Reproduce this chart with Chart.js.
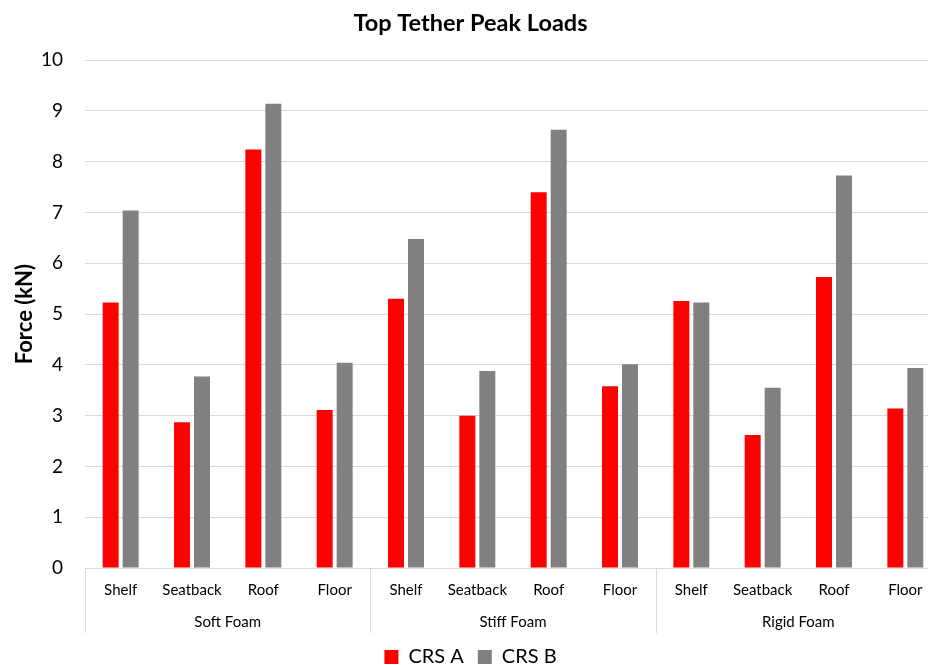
<!DOCTYPE html>
<html>
<head>
<meta charset="utf-8">
<title>Top Tether Peak Loads</title>
<script src="https://cdn.jsdelivr.net/npm/chart.js@4"></script>
<style>
    html, body { margin: 0; padding: 0; background: #fff; overflow: hidden; }
    #wrap { width: 941px; height: 665px; }
</style>
</head>
<body>
<div id="wrap"><canvas id="loads"></canvas></div>
<script>
const categories = ['Shelf', 'Seatback', 'Roof', 'Floor',
                    'Shelf', 'Seatback', 'Roof', 'Floor',
                    'Shelf', 'Seatback', 'Roof', 'Floor'];
const groups = ['Soft Foam', 'Stiff Foam', 'Rigid Foam'];
const crsA = [5.23, 2.87, 8.24, 3.11, 5.30, 3.00, 7.40, 3.58, 5.26, 2.62, 5.73, 3.14];
const crsB = [7.04, 3.77, 9.14, 4.04, 6.48, 3.88, 8.63, 4.01, 5.23, 3.55, 7.73, 3.94];

Chart.defaults.font.family = 'Lato, "Open Sans", sans-serif';
Chart.defaults.color = '#000';

const lineColor = '#d9d9d9';

// vertical separators between the foam groups, below the axis line
const groupSeparators = {
    id: 'groupSeparators',
    afterDraw(chart) {
        const x = chart.scales.x;
        const x2 = chart.scales.x2;
        const per = categories.length / groups.length;
        const ctx = chart.ctx;
        ctx.save();
        ctx.strokeStyle = lineColor;
        ctx.lineWidth = 1;
        for (let g = 0; g <= groups.length; g++) {
            let px;
            if (g === 0) px = x.left;
            else if (g === groups.length) px = x.right;
            else px = (x.getPixelForValue(g * per - 1) + x.getPixelForValue(g * per)) / 2;
            px = Math.round(px) + 0.5;
            ctx.beginPath();
            ctx.moveTo(px, chart.chartArea.bottom);
            ctx.lineTo(px, x2.bottom);
            ctx.stroke();
        }
        ctx.restore();
    }
};

const data = {
    labels: categories,
    datasets: [{
        label: 'CRS A',
        backgroundColor: '#ff0000',
        data: crsA,
        categoryPercentage: 0.56,
        barPercentage: 0.8
    }, {
        label: 'CRS B',
        backgroundColor: '#808080',
        data: crsB,
        categoryPercentage: 0.56,
        barPercentage: 0.8
    }]
};

const config = {
    type: 'bar',
    data,
    options: {
        responsive: true,
        maintainAspectRatio: false,
        animation: false,
        layout: {
            padding: { left: 0, right: 0, top: 0, bottom: -12 }
        },
        plugins: {
            title: {
                display: true,
                text: 'Top Tether Peak Loads',
                font: { size: 23.5, weight: 'bold' },
                padding: { top: 9, bottom: 23 }
            },
            legend: {
                position: 'bottom',
                labels: {
                    boxWidth: 14,
                    boxHeight: 14,
                    padding: 14,
                    font: { size: 20 }
                }
            },
            tooltip: { enabled: false }
        },
        scales: {
            x: {
                offset: true,
                grid: { display: false, drawTicks: false },
                border: { display: true, color: lineColor },
                ticks: { font: { size: 15 }, padding: 13, maxRotation: 0, autoSkip: false },
                afterFit(scale) { scale.height = 31; }
            },
            x2: {
                type: 'category',
                labels: groups,
                position: 'bottom',
                offset: true,
                grid: { display: false, drawTicks: false },
                border: { display: false },
                ticks: { font: { size: 15 }, padding: 14 },
                afterFit(scale) { scale.height = 34; }
            },
            y: {
                min: 0,
                max: 10,
                ticks: { stepSize: 1, font: { size: 19 }, padding: 22 },
                grid: { color: lineColor, drawTicks: false },
                border: { display: false },
                title: {
                    display: true,
                    text: 'Force (kN)',
                    font: { size: 22, weight: 'bold' },
                    padding: { top: 12, bottom: 2 }
                },
                afterFit(scale) { scale.width = 85; }
            }
        }
    },
    plugins: [groupSeparators]
};

new Chart(document.getElementById('loads'), config);
</script>
</body>
</html>
